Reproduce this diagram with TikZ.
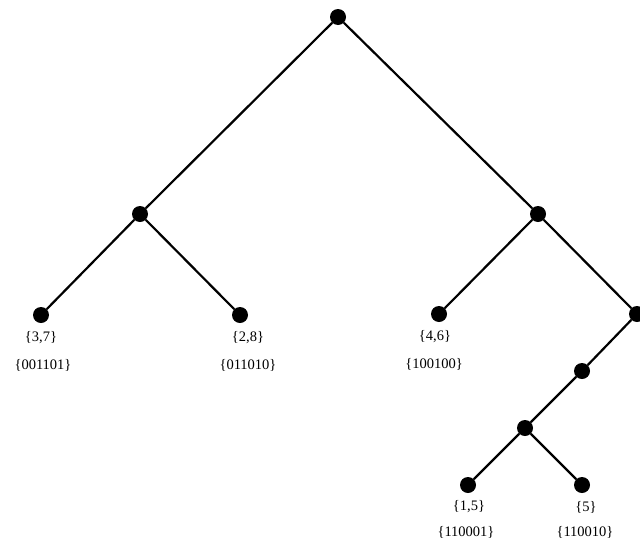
\documentclass[tikz,border=0pt]{standalone}
\usepackage{fontspec}
\setmainfont{Liberation Serif}
\begin{document}
\begin{tikzpicture}[x=1pt,y=-1pt,
  dot/.style={circle,fill=black,inner sep=0pt,minimum size=16pt},
  edge/.style={line width=2.2pt},
  lab/.style={font=\fontsize{14.5}{16}\selectfont,inner sep=0pt}]
\useasboundingbox[fill=white] (0,0) rectangle (640,544);
\node[dot] (root) at (338,17) {};
\node[dot] (l) at (140,214) {};
\node[dot] (ll) at (41,315) {};
\node[dot] (lr) at (240,315) {};
\node[dot] (r) at (538,214) {};
\node[dot] (rl) at (439,314) {};
\node[dot] (rr) at (637,314) {};
\node[dot] (rra) at (582,371) {};
\node[dot] (rrb) at (525,428) {};
\node[dot] (rrbl) at (468,485) {};
\node[dot] (rrbr) at (582,485) {};
\draw[edge] (root) -- (l);
\draw[edge] (root) -- (r);
\draw[edge] (l) -- (ll);
\draw[edge] (l) -- (lr);
\draw[edge] (r) -- (rl);
\draw[edge] (r) -- (rr);
\draw[edge] (rr) -- (rra);
\draw[edge] (rra) -- (rrb);
\draw[edge] (rrb) -- (rrbl);
\draw[edge] (rrb) -- (rrbr);
\node[lab] (t1) at (41,338) {\{3,7\}};
\node[lab] (c1) at (43,365) {\{001101\}};
\node[lab] (t2) at (248,338) {\{2,8\}};
\node[lab] (c2) at (248,365) {\{011010\}};
\node[lab] (t3) at (435,337) {\{4,6\}};
\node[lab] (c3) at (434,364) {\{100100\}};
\node[lab] (t4) at (469,507) {\{1,5\}};
\node[lab] (c4) at (466,532) {\{110001\}};
\node[lab] (t5) at (586,507) {\{5\}};
\node[lab] (c5) at (585,532) {\{110010\}};
\end{tikzpicture}
\end{document}
